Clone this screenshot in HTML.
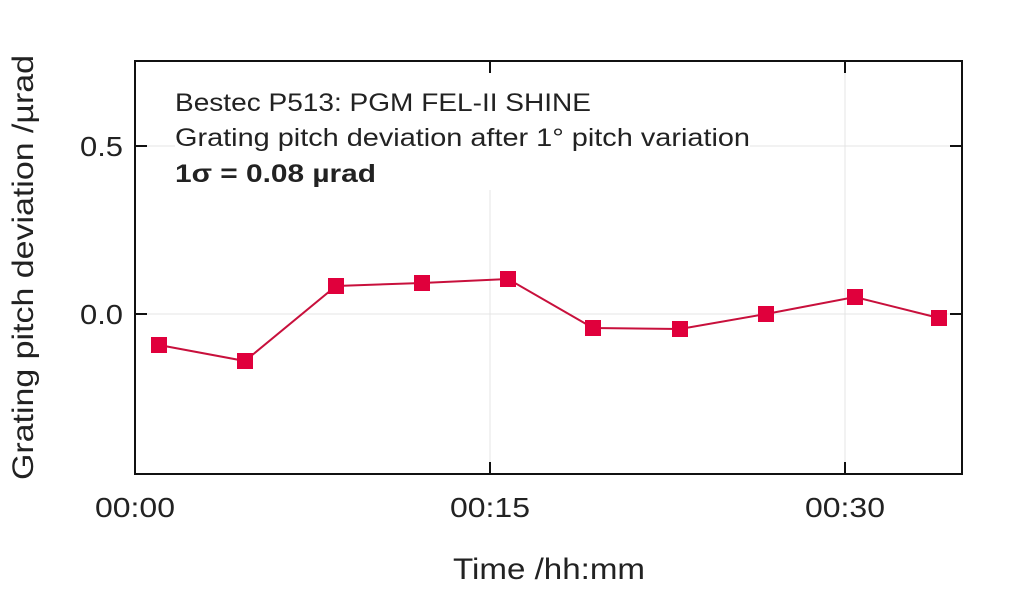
<!DOCTYPE html>
<html><head><style>body{margin:0;background:#fff}</style></head><body>
<svg width="1024" height="588" xmlns="http://www.w3.org/2000/svg" font-family="Liberation Sans, sans-serif">
<rect width="1024" height="588" fill="#fff"/>
<g stroke="#e4e4e4" stroke-width="1">
<line x1="490" y1="190" x2="490" y2="474"/>
<line x1="845" y1="61" x2="845" y2="474"/>
<line x1="135" y1="146" x2="175" y2="146"/>
<line x1="750" y1="146" x2="962" y2="146"/>
<line x1="135" y1="314" x2="962" y2="314"/>
</g>
<rect x="135" y="61" width="827" height="413" fill="none" stroke="#111" stroke-width="2"/>
<g stroke="#111" stroke-width="2">
<line x1="135" y1="146" x2="147" y2="146"/><line x1="135" y1="314" x2="147" y2="314"/>
<line x1="962" y1="146" x2="950" y2="146"/><line x1="962" y1="314" x2="950" y2="314"/>
<line x1="490" y1="474" x2="490" y2="462"/><line x1="845" y1="474" x2="845" y2="462"/>
<line x1="490" y1="61" x2="490" y2="73"/><line x1="845" y1="61" x2="845" y2="73"/>
</g>
<polyline fill="none" stroke="#c8103c" stroke-width="2" points="159,345 245,361 336,286 422,283 508,279 593,328 680,329 766,314 855,297 939,318"/>
<g fill="#e0003c">
<rect x="151" y="337" width="16" height="16"/><rect x="237" y="353" width="16" height="16"/>
<rect x="328" y="278" width="16" height="16"/><rect x="414" y="275" width="16" height="16"/>
<rect x="500" y="271" width="16" height="16"/><rect x="585" y="320" width="16" height="16"/>
<rect x="672" y="321" width="16" height="16"/><rect x="758" y="306" width="16" height="16"/>
<rect x="847" y="289" width="16" height="16"/><rect x="931" y="310" width="16" height="16"/>
</g>
<g fill="#222" font-size="28">
<text x="80" y="156" textLength="43" lengthAdjust="spacingAndGlyphs">0.5</text>
<text x="80" y="324" textLength="43" lengthAdjust="spacingAndGlyphs">0.0</text>
<text x="95" y="517" textLength="80" lengthAdjust="spacingAndGlyphs">00:00</text>
<text x="450" y="517" textLength="80" lengthAdjust="spacingAndGlyphs">00:15</text>
<text x="805" y="517" textLength="80" lengthAdjust="spacingAndGlyphs">00:30</text>
<text x="453" y="579" font-size="30" textLength="192" lengthAdjust="spacingAndGlyphs">Time /hh:mm</text>
<text transform="translate(33,480) rotate(-90)" font-size="30" textLength="425" lengthAdjust="spacingAndGlyphs">Grating pitch deviation /µrad</text>
</g>
<g fill="#222" font-size="25">
<text x="175" y="111" textLength="416" lengthAdjust="spacingAndGlyphs">Bestec P513: PGM FEL-II SHINE</text>
<text x="175" y="146" textLength="575" lengthAdjust="spacingAndGlyphs">Grating pitch deviation after 1° pitch variation</text>
<text x="175" y="182" font-weight="bold" textLength="201" lengthAdjust="spacingAndGlyphs">1σ = 0.08 µrad</text>
</g>
</svg>
</body></html>
